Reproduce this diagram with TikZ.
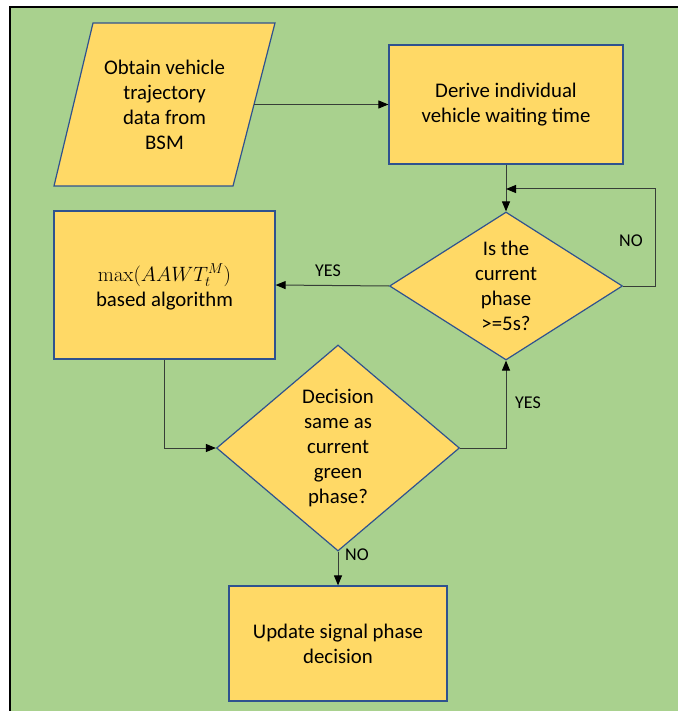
\documentclass[tikz,border=0pt]{standalone}
\usepackage[no-math]{fontspec}
\setmainfont{Carlito}
\usetikzlibrary{shapes.geometric,arrows.meta,calc}
\definecolor{bggreen}{RGB}{169,209,142}
\definecolor{boxyellow}{RGB}{255,217,102}
\definecolor{boxblue}{RGB}{47,82,143}
\definecolor{linegray}{RGB}{55,62,55}
\tikzset{
  shapebase/.style={draw=boxblue, fill=boxyellow, line width=1.2pt, inner sep=0pt},
  procbox/.style={shapebase, rectangle},
  decision/.style={shapebase, diamond},
  txt/.style={align=center, font=\fontsize{20.8}{25}\selectfont, inner sep=0pt},
  lbl/.style={font=\fontsize{18}{21}\selectfont, inner sep=0pt},
  conn/.style={draw=linegray, line width=1pt, -{Triangle[length=10pt,width=8pt,color=black]}},
}
\begin{document}
\begin{tikzpicture}[x=1pt,y=-1pt]
\useasboundingbox (0,0) rectangle (678,711);
\fill[bggreen] (10,7) rectangle (678,711);
\draw[line width=2pt, black] (10,711) -- (10,7) -- (678,7);

% input parallelogram
\coordinate (obtainTL) at (93,23);
\coordinate (obtainTR) at (275,23);
\coordinate (obtainBR) at (233,186);
\coordinate (obtainBL) at (54,186);
\draw[shapebase] (obtainTL) -- (obtainTR) -- (obtainBR) -- (obtainBL) -- cycle;
\node[txt] (obtain) at (164.5,104.5) {Obtain vehicle\\trajectory\\data from\\BSM};
\coordinate (obtainE) at ($(obtainTR)!0.5!(obtainBR)$);

\node[procbox, minimum width=234, minimum height=119] (derive) at (506,104.5) {};
\node[txt] (derivetxt) at (derive.center) {Derive individual\\vehicle waiting time};

\node[decision, minimum width=233, minimum height=148] (phase) at (506,286) {};
\node[txt] (phasetxt) at (phase.center) {Is the\\current\\phase\\>=5s?};

\node[procbox, minimum width=221, minimum height=148] (algo) at (164.5,285) {};
\node[txt] (algotxt) at (164.5,287) {$\max(AAWT_t^M)$\\based algorithm};

\node[decision, minimum width=243, minimum height=206] (same) at (338,448) {};
\node[txt] (sametxt) at (same.center) {Decision\\same as\\current\\green\\phase?};

\node[procbox, minimum width=218, minimum height=115] (update) at (338,643.5) {};
\node[txt] (updatetxt) at (update.center) {Update signal phase\\decision};

% connectors
\coordinate (loopin) at (506,189);
\draw[conn] (obtainE) -- (obtainE -| derive.west);
\draw[conn] (derive.south) -- (phase.north);
\draw[conn] (phase.east) -- ++(32,0) |- (loopin);
\draw[conn] (phase.west) -- (algo.east);
\draw[conn] (algo.south) |- (same.west);
\draw[conn] (same.east) -| (phase.south);
\draw[conn] (same.south) -- (update.north);

% labels
\node[lbl] (lno1) at (631,241) {NO};
\node[lbl] (lyes1) at (328,271) {YES};
\node[lbl] (lyes2) at (528,403) {YES};
\node[lbl] (lno2) at (357,555) {NO};
\end{tikzpicture}
\end{document}
